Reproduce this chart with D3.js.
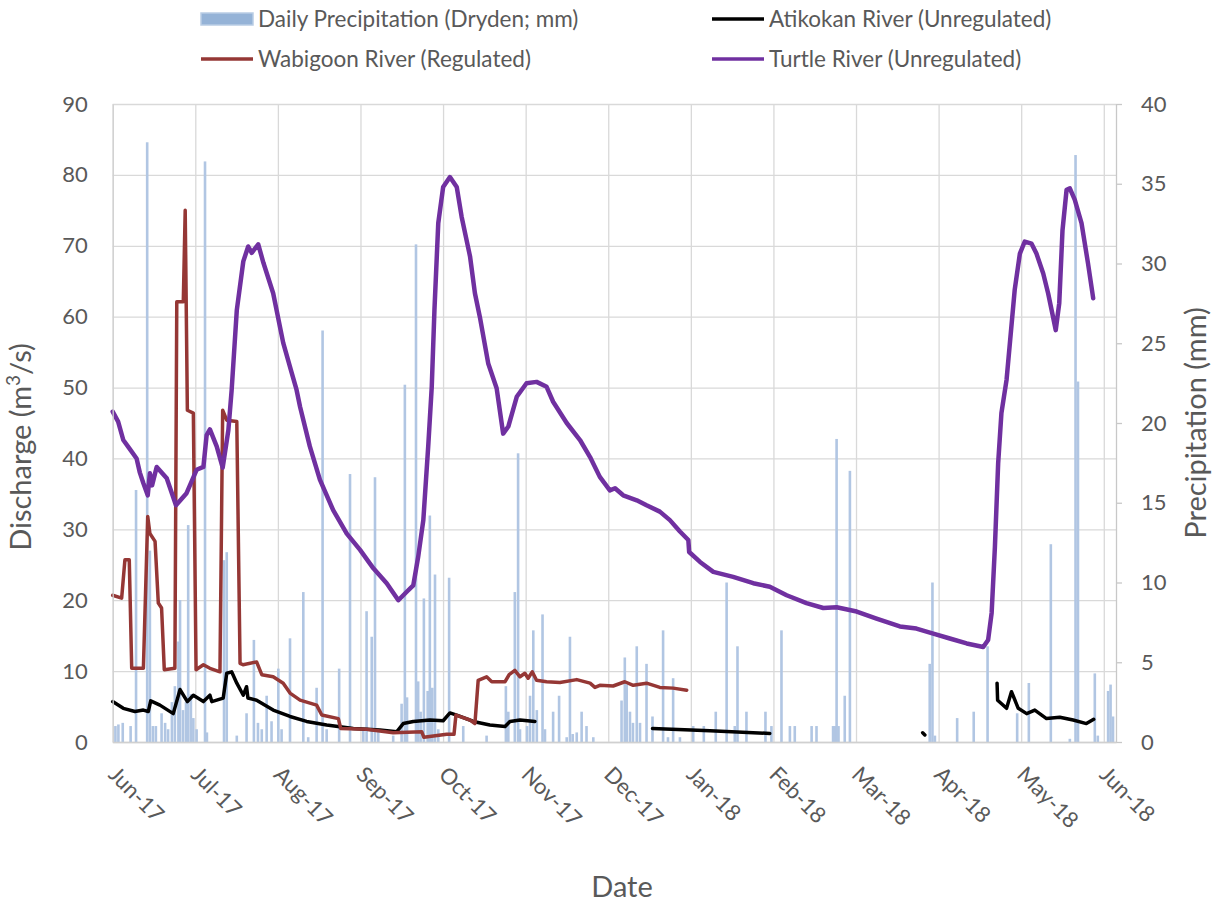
<!DOCTYPE html>
<html>
<head>
<meta charset="utf-8">
<title>Discharge and Precipitation</title>
<script src="https://d3js.org/d3.v7.min.js"></script>
<style>
  body { margin: 0; background: #fff; }
  text { font-family: Lato, "Open Sans", sans-serif; fill: #595959; }
</style>
</head>
<body>
<div id="chart"></div>
<script>
// x values are days since 1 Jun 2017
const monthLabels = ["Jun-17", "Jul-17", "Aug-17", "Sep-17", "Oct-17", "Nov-17", "Dec-17",
                     "Jan-18", "Feb-18", "Mar-18", "Apr-18", "May-18", "Jun-18"];
const dischargeTicks = [0, 10, 20, 30, 40, 50, 60, 70, 80, 90];
const precipTicks = [0, 5, 10, 15, 20, 25, 30, 35, 40];

// [day, mm]
const precipitation = [
  [1.0,1.0],[2.1,1.1],[3.7,1.2],[6.6,1.0],[8.6,15.8],[12.7,37.6],[13.7,12.0],[14.8,1.0],[15.9,1.0],
  [18.0,1.8],[19.3,1.2],[20.4,0.8],[21.8,2.5],[22.9,3.5],[24.2,6.3],[24.8,8.9],[25.9,2.0],[27.0,2.5],
  [27.8,13.6],[28.8,3.0],[29.7,1.5],[30.9,0.8],[34.0,36.4],[34.7,0.6],[41.0,11.4],[42.0,11.9],[45.7,0.4],
  [49.3,1.8],[52.0,6.4],[53.5,1.2],[54.9,0.8],[56.7,2.9],[58.5,1.3],[61.0,4.6],[62.2,0.8],[65.3,6.5],
  [70.2,9.4],[72.0,0.3],[75.1,3.4],[77.3,25.8],[78.8,0.8],[83.4,4.6],[87.4,16.8],[92.3,0.8],[93.5,8.2],
  [95.4,6.6],[96.6,16.6],[97.8,0.8],[103.3,0.4],[106.4,2.4],[107.6,22.4],[108.4,2.8],[111.7,31.2],
  [112.5,3.8],[113.4,1.9],[114.6,9.0],[116.0,3.2],[116.8,14.2],[117.7,3.4],[118.7,10.5],[119.9,0.8],
  [123.9,10.3],[129.1,1.0],[137.7,0.4],[144.8,3.5],[145.7,1.9],[148.1,9.4],[149.3,18.1],[150.0,0.8],
  [152.6,1.0],[153.7,2.9],[154.9,7.0],[156.2,2.0],[158.3,8.0],[159.2,0.8],[162.2,1.9],[164.4,2.9],
  [167.2,0.3],[168.4,6.6],[169.4,0.5],[170.9,0.6],[172.7,1.9],[174.5,1.0],[177.0,0.3],[187.4,2.6],
  [188.6,5.3],[189.3,3.6],[190.5,1.9],[191.6,1.2],[193.0,6.0],[194.2,1.2],[196.6,4.9],[198.8,1.6],
  [202.7,7.0],[204.5,0.3],[206.4,4.0],[208.9,0.3],[213.8,1.0],[217.7,1.0],[222.1,1.9],[226.1,10.0],
  [229.1,1.0],[230.1,6.0],[233.4,1.9],[240.4,1.9],[242.6,1.0],[246.3,7.0],[249.4,1.0],[251.2,1.0],
  [257.4,1.0],[259.2,1.0],[265.3,1.0],[266.0,1.0],[266.6,19.0],[267.3,1.0],[269.6,2.9],[271.5,17.0],
  [300.9,4.9],[301.9,10.0],[302.8,0.4],[311.0,1.5],[317.1,1.9],[322.2,6.0],[333.1,1.8],[337.4,3.7],
  [345.5,12.4],[352.5,0.2],[354.6,36.8],[355.5,22.6],[361.7,4.3],[362.8,0.4],[366.6,3.2],[367.5,3.6],
  [368.4,1.6]
];

// [day, m3/s]
const turtleRiver = [
  [0,46.6],[2,45.2],[3.9,42.6],[6,41.5],[8.8,40],[10,38],[11.3,36.5],[12.9,34.8],[13.7,37.9],[14.5,36.2],
  [16.2,38.8],[19.9,37.2],[23.3,33.4],[27.2,35.1],[30.9,38.4],[33.4,38.8],[34.6,43.3],[35.8,44.1],
  [38.3,41.7],[40.5,38.7],[42.6,44],[43.8,49.6],[45.7,60.9],[48.1,67.8],[49.9,69.9],[51.2,69],[53.6,70.2],
  [55.5,67.6],[59.1,63.3],[62.8,56.3],[65.9,52.1],[67.7,49.7],[69,47.3],[72.6,41.7],[76.3,37],[81.2,32.7],
  [86.2,29.4],[91.1,27.1],[96,24.5],[100.9,22.4],[105.2,20],[108.3,21.2],[110.7,22.1],[112.5,26.1],
  [114.4,31.3],[116.2,41.7],[117.5,50.1],[118.5,61],[119.9,73.2],[121.7,78.3],[124.2,79.7],[126.7,78.3],
  [128.5,74.1],[131.6,68.5],[133.4,63.3],[135.2,60],[138.3,53.4],[141.4,49.9],[143.8,43.5],[145.7,44.5],
  [148.8,48.7],[152.4,50.6],[156.1,50.8],[159.8,50.1],[162.2,48],[167.2,45],[172.1,42.6],[175.8,40.2],
  [179.4,37.4],[183.1,35.5],[185,35.8],[188,34.8],[193,34.1],[196.6,33.4],[201.5,32.5],[205.2,31.3],
  [208.9,29.7],[212,28.5],[212.3,26.8],[216.3,25.4],[221.2,24],[228.5,23.3],[235.9,22.4],[242,21.9],
  [248.2,20.7],[255.5,19.6],[261.7,18.9],[266.6,19],[274,18.4],[281.3,17.4],[289.9,16.3],[296,16],
  [302.2,15.3],[308.3,14.6],[314.5,13.9],[320.6,13.4],[322.4,14.4],[323.7,18.2],[324.9,27.5],[326.1,39.3],
  [327.3,46.4],[329.2,51.1],[332.2,63.8],[334.1,68.9],[335.9,70.6],[338.4,70.3],[340.2,68.9],[342.7,66.1],
  [344.5,63.3],[346.3,60],[347.3,58.1],[348.6,61.9],[349.8,72.2],[351.3,77.9],[352.5,78.1],[354.3,76.5],
  [356.8,73.2],[359.2,67.5],[361.1,62.6]
];

const wabigoonRiver = [
  [0,20.7],[3.3,20.3],[4.5,25.7],[6.1,25.7],[7,10.4],[11.3,10.4],[12.9,31.8],[13.7,29.4],[15.6,28.3],
  [16.8,19.6],[18,18.9],[19,10.2],[22.9,10.4],[23.6,62.1],[26,62.1],[26.7,75],[27.5,46.8],[29.7,46.4],
  [30.7,10.2],[33.4,10.9],[35.8,10.4],[39.5,9.9],[40.5,46.8],[42,45.4],[45.7,45.2],[46.9,11.1],[48,10.9],
  [53,11.3],[54.9,9.5],[59.1,9.2],[62.8,8.3],[65.3,6.9],[69,5.9],[75.1,5.2],[77,3.8],[83.1,3.3],[84,1.9],
  [93.5,1.8],[103.3,1.3],[113.8,1.45],[114.6,0.66],[123,1.1],[125.7,1.1],[126.4,3.8],[131.6,3.1],
  [133.4,2.6],[134.6,8.7],[137.7,9.2],[139.6,8.5],[144.5,8.5],[146,9.5],[148.1,10.1],[150,9.2],
  [151.8,9.7],[153,9],[154.5,9.9],[156.1,8.7],[159.8,8.5],[164.7,8.4],[170.9,8.8],[175.8,8.3],
  [177.6,7.7],[179.4,8],[184.3,7.9],[188.6,8.5],[191.7,8],[196.6,8.3],[201.5,7.7],[206.4,7.6],[211.4,7.3]
];

// null values mark gaps in the record
const atikokanRiver = [
  [0,5.7],[3.9,4.75],[8.2,4.3],[11.3,4.5],[13.1,4.3],[14,5.8],[17.4,5.2],[22.3,4],[24.8,7.4],[27.5,5.7],
  [29.7,6.6],[33.4,5.7],[35.8,6.6],[36.5,5.7],[40.7,6.2],[42,9.7],[43.8,9.9],[45.7,8.3],[48.1,6.6],
  [49.3,7.8],[49.8,6.2],[53,5.9],[59.1,4.5],[65.3,3.6],[71.4,2.9],[78.8,2.4],[88.6,1.9],[98.4,1.7],
  [104.6,1.45],[107,2.6],[110.7,2.9],[116.8,3.1],[121.7,3],[124.2,4.1],[126.7,3.8],[132.8,2.9],
  [138.9,2.4],[144.5,2.2],[146.3,2.9],[150,3.1],[155.5,2.9],
  [170,null],
  [198.8,1.9],[220,1.6],[242,1.2],
  [270,null],
  [298.3,1.3],[299.1,1.0],
  [310,null],
  [325.7,8.3],[325.9,5.9],[329.2,4.75],[331,7.1],[333.5,4.75],[336.6,4],[339.6,4.5],[343.9,3.3],
  [348.8,3.5],[353.7,3.1],[358.6,2.6],[361.3,3.2]
];

const width = 1225, height = 909;
const margin = {top: 104, right: 109, bottom: 167, left: 112.7};
const plotW = width - margin.left - margin.right;
const plotH = height - margin.top - margin.bottom;

const svg = d3.select("#chart").append("svg")
    .attr("width", width)
    .attr("height", height);

const x = d3.scaleLinear().domain([0, 369.5]).range([margin.left, width - margin.right]);
const yQ = d3.scaleLinear().domain([0, 90]).range([height - margin.bottom, margin.top]);
const yP = d3.scaleLinear().domain([0, 40]).range([height - margin.bottom, margin.top]);

// month ticks are evenly spaced across the year
const monthTicks = monthLabels.map((m, i) => i * 365 / 12);

// gridlines
svg.append("g")
    .attr("transform", `translate(${margin.left},0)`)
    .call(d3.axisLeft(yQ).tickValues(dischargeTicks).tickSize(-plotW).tickFormat(""))
    .call(g => g.select(".domain").remove())
    .call(g => g.selectAll("line").attr("stroke", "#d9d9d9").attr("stroke-width", 1.3));

svg.append("g")
    .attr("transform", `translate(0,${margin.top})`)
    .call(d3.axisTop(x).tickValues(monthTicks).tickSize(-plotH).tickFormat(""))
    .call(g => g.select(".domain").remove())
    .call(g => g.selectAll("line").attr("stroke", "#d9d9d9").attr("stroke-width", 1.3));

// precipitation bars
svg.append("g")
  .selectAll("rect")
  .data(precipitation)
  .join("rect")
    .attr("x", d => x(d[0]) - 1.3)
    .attr("width", 2.6)
    .attr("y", d => yP(d[1]))
    .attr("height", d => yP(0) - yP(d[1]))
    .attr("fill", "#b1c6e3");

// discharge lines
const line = d3.line()
    .defined(d => d[1] !== null)
    .x(d => x(d[0]))
    .y(d => yQ(d[1]));

const series = [
  {data: atikokanRiver, color: "#000000", w: 3.5},
  {data: wabigoonRiver, color: "#953735", w: 3.5},
  {data: turtleRiver, color: "#7030a0", w: 4.5}
];

svg.append("g")
  .selectAll("path")
  .data(series)
  .join("path")
    .attr("d", d => line(d.data))
    .attr("fill", "none")
    .attr("stroke", d => d.color)
    .attr("stroke-width", d => d.w)
    .attr("stroke-linejoin", "round")
    .attr("stroke-linecap", "round");

// axes
const leftAxis = svg.append("g")
    .attr("transform", `translate(${margin.left},0)`)
    .call(d3.axisLeft(yQ).tickValues(dischargeTicks).tickSize(0).tickPadding(25));
leftAxis.select(".domain").attr("stroke", "#d0d0d0").attr("stroke-width", 1.3);

const rightAxis = svg.append("g")
    .attr("transform", `translate(${width - margin.right},0)`)
    .call(d3.axisRight(yP).tickValues(precipTicks).tickSizeInner(6).tickSizeOuter(0).tickPadding(19));
rightAxis.select(".domain").attr("stroke", "#c8c8c8").attr("stroke-width", 1.3);
rightAxis.selectAll(".tick line").attr("stroke", "#c8c8c8").attr("stroke-width", 1.3);

const bottomAxis = svg.append("g")
    .attr("transform", `translate(0,${height - margin.bottom})`)
    .call(d3.axisBottom(x).tickValues(monthTicks).tickFormat((d, i) => monthLabels[i]).tickSize(0));
bottomAxis.select(".domain").attr("stroke", "#d0d0d0").attr("stroke-width", 1.3);
bottomAxis.selectAll("text")
    .attr("x", 0).attr("y", 0).attr("dy", null)
    .attr("text-anchor", "start")
    .attr("transform", "translate(-6,34) rotate(45)");

svg.selectAll(".tick text").attr("font-size", 22).attr("font-family", null);

// axis titles
const qTitle = svg.append("text")
    .attr("transform", "translate(31,447) rotate(-90)")
    .attr("text-anchor", "middle")
    .attr("font-size", 29);
qTitle.append("tspan").text("Discharge (m");
qTitle.append("tspan").text("3").attr("baseline-shift", "super").attr("font-size", 19);
qTitle.append("tspan").text("/s)");

svg.append("text")
    .attr("transform", "translate(1206,423) rotate(-90)")
    .attr("text-anchor", "middle")
    .attr("font-size", 29)
    .text("Precipitation (mm)");

svg.append("text")
    .attr("x", 622)
    .attr("y", 897)
    .attr("text-anchor", "middle")
    .attr("font-size", 29)
    .text("Date");

// legend
const legendItems = [
  {label: "Daily Precipitation (Dryden; mm)", type: "bar", color: "#95b3d7", x: 201, y: 19},
  {label: "Atikokan River (Unregulated)", type: "line", color: "#000000", x: 712, y: 19},
  {label: "Wabigoon River (Regulated)", type: "line", color: "#953735", x: 201, y: 59},
  {label: "Turtle River (Unregulated)", type: "line", color: "#7030a0", x: 712, y: 59}
];

const legend = svg.append("g")
  .selectAll("g")
  .data(legendItems)
  .join("g")
    .attr("transform", d => `translate(${d.x},${d.y})`);

legend.filter(d => d.type === "bar").append("rect")
    .attr("x", 0).attr("y", -6).attr("width", 52).attr("height", 12)
    .attr("fill", d => d.color)
    .attr("stroke", "#b9cde5").attr("stroke-width", 1.5);

legend.filter(d => d.type === "line").append("line")
    .attr("x1", 0).attr("x2", 52)
    .attr("stroke", d => d.color)
    .attr("stroke-width", 3.5);

legend.append("text")
    .attr("x", 57)
    .attr("dy", "0.35em")
    .attr("font-size", 22.5)
    .text(d => d.label);
</script>
</body>
</html>
